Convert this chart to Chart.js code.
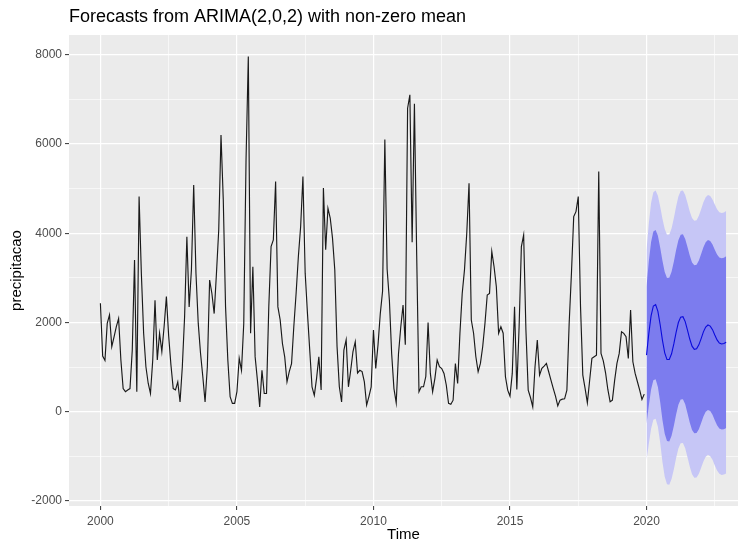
<!DOCTYPE html>
<html>
<head>
<meta charset="utf-8">
<script src="https://cdn.jsdelivr.net/npm/chart.js@4/dist/chart.umd.min.js"></script>
<style>
html,body{margin:0;padding:0;background:#ffffff;}
#wrap{width:746px;height:543px;position:relative;}
</style>
</head>
<body>
<div id="wrap"><canvas id="c" width="746" height="543"></canvas></div>
<script>
// ---- data ----
const startYear = 2000;
const frequency = 12;
const precipitacao = [
  2430, 1250, 1150, 1980, 2170, 1460, 1680, 1910, 2090, 1160, 520, 450,
  490, 520, 1380, 3400, 450, 4820, 3100, 1760, 1010, 640, 410, 1160,
  2500, 1160, 1760, 1350, 1910, 2580, 1700, 1050, 520, 490, 670, 220,
  1010, 2130, 3920, 2350, 3180, 5080, 3100, 1980, 1310, 790, 220, 1010,
  2950, 2650, 2200, 3100, 4070, 6200, 4750, 2350, 1160, 340, 190, 190,
  450, 1200, 930, 1980, 5640, 7960, 1760, 3250, 1230, 710, 110, 930,
  410, 410, 2350, 3700, 3850, 5160, 2350, 2060, 1530, 1230, 670, 900,
  1080, 1910, 2650, 3480, 4150, 5270, 3100, 2200, 1380, 560, 370, 750,
  1230, 490, 5010, 3630, 4560, 4340, 3890, 3180, 1460, 560, 220, 1380,
  1610, 560, 930, 1350, 1570, 870, 930, 900, 670, 150, 340, 560,
  1830, 970, 1500, 2200, 2700, 6100, 3200, 2500, 1300, 520, 200, 1300,
  1900, 2390, 1500, 6800, 7100, 3800, 6900, 3500, 450, 560, 560, 790,
  2000, 860, 450, 750, 1160, 1010, 970, 860, 600, 190, 170, 260,
  1080, 635, 1760, 2650, 3180, 4000, 5120, 2055, 1760, 1233, 897, 1084,
  1457, 1980, 2616, 2653, 3590, 3250, 2800, 1760, 1906, 1760, 785, 486,
  351, 860, 2350, 500, 1900, 3700, 3960, 1830, 486, 320, 112, 1009,
  1607, 822, 972, 1024, 1084, 897, 710, 523, 351, 135, 262, 284,
  291, 486, 1980, 3100, 4372, 4484, 4820, 2354, 822, 523, 200, 700,
  1196, 1233, 1270, 5381, 1308, 1143, 874, 500, 224, 262, 710, 1084,
  1308, 1794, 1756, 1682, 1196, 2280, 1121, 860, 673, 486, 277, 396
];
const forecastStart = 2020;
const forecastMean = [
  1270, 1750, 2150, 2370, 2400, 2250, 1950, 1600, 1320, 1170, 1170, 1300,
  1520, 1780, 2000, 2120, 2130, 2020, 1830, 1630, 1470, 1400, 1410, 1500,
  1640, 1790, 1900, 1945, 1920, 1840, 1720, 1610, 1540, 1520, 1530, 1560
];
const upper80 = [
  2808, 3365, 3803, 4036, 4072, 3942, 3680, 3381, 3133, 2996, 3003, 3135,
  3359, 3622, 3844, 3967, 3979, 3873, 3691, 3499, 3346, 3281, 3295, 3389,
  3533, 3687, 3799, 3847, 3824, 3747, 3631, 3523, 3456, 3438, 3450, 3482
];
const lower80 = [
  -268, 135, 497, 704, 728, 558, 220, -181, -493, -656, -663, -535,
  -319, -62, 156, 273, 281, 167, -31, -239, -406, -481, -475, -389,
  -253, -107, 1, 43, 16, -67, -191, -303, -376, -398, -390, -362
];
const upper95 = [
  3622, 4220, 4678, 4918, 4958, 4837, 4596, 4324, 4093, 3963, 3973, 4107,
  4333, 4597, 4820, 4944, 4958, 4854, 4676, 4488, 4339, 4277, 4293, 4389,
  4535, 4691, 4805, 4854, 4833, 4756, 4642, 4536, 4470, 4454, 4466, 4500
];
const lower95 = [
  -1082, -720, -378, -178, -158, -337, -696, -1124, -1453, -1623, -1633, -1507,
  -1293, -1037, -820, -704, -698, -814, -1016, -1228, -1399, -1477, -1473, -1389,
  -1255, -1111, -1005, -964, -993, -1076, -1202, -1316, -1390, -1414, -1406, -1380
];
const xTickLabels = [2000, 2005, 2010, 2015, 2020];
const yTickLabels = [-2000, 0, 2000, 4000, 6000, 8000];

// ---- helpers ----
const obsPts = precipitacao.map((v, i) => ({x: startYear + i / frequency, y: v}));
const fc = arr => arr.map((v, j) => ({x: forecastStart + j / frequency, y: v}));

const X_MIN = 1998.85, X_MAX = 2023.35, Y_MIN = -2110, Y_MAX = 8440;

function withMinor(major, lo, hi) {
  const step = major[1] - major[0];
  const out = [];
  major.forEach(v => { out.push(v - step / 2); out.push(v); });
  out.push(major[major.length - 1] + step / 2);
  return out.filter(v => v >= lo && v <= hi);
}
const isMajorX = v => xTickLabels.includes(v);
const isMajorY = v => yTickLabels.includes(v);

const FONT = '"Liberation Sans", Arial, sans-serif';

const panelBg = {
  id: 'panelBg',
  beforeDraw(chart) {
    const {ctx, chartArea: a} = chart;
    ctx.save();
    ctx.fillStyle = '#EBEBEB';
    ctx.fillRect(a.left, a.top, a.right - a.left, a.bottom - a.top);
    ctx.restore();
  }
};

const texts = {
  id: 'texts',
  afterDraw(chart) {
    const {ctx, chartArea: a} = chart;
    ctx.save();
    ctx.fillStyle = '#000000';
    ctx.font = '18px ' + FONT;
    ctx.textAlign = 'left';
    ctx.textBaseline = 'middle';
    ctx.fillText('Forecasts from ARIMA(2,0,2) with non-zero mean', a.left, 17);
    ctx.font = '15px ' + FONT;
    ctx.textAlign = 'center';
    ctx.fillText('Time', (a.left + a.right) / 2, 535);
    ctx.translate(17, (a.top + a.bottom) / 2);
    ctx.rotate(-Math.PI / 2);
    ctx.fillText('precipitacao', 0, 0);
    ctx.restore();
  }
};

const gridFor = isMajor => ({
  color: '#FFFFFF',
  lineWidth: c => (c.tick && isMajor(c.tick.value)) ? 1.2 : 0.6,
  tickColor: c => (c.tick && isMajor(c.tick.value)) ? '#333333' : 'rgba(0,0,0,0)',
  tickLength: 4,
  tickWidth: 1,
  drawOnChartArea: true
});

new Chart(document.getElementById('c'), {
  type: 'line',
  data: {
    datasets: [
      {data: fc(upper95), fill: '+1', backgroundColor: '#C6C6F6', borderWidth: 0, pointRadius: 0, order: 5},
      {data: fc(lower95), fill: false, borderWidth: 0, pointRadius: 0, order: 5},
      {data: fc(upper80), fill: '+1', backgroundColor: '#7C7CEE', borderWidth: 0, pointRadius: 0, order: 4},
      {data: fc(lower80), fill: false, borderWidth: 0, pointRadius: 0, order: 4},
      {data: fc(forecastMean), fill: false, borderColor: '#0A0ADC', borderWidth: 1.1, pointRadius: 0, order: 2},
      {data: obsPts, fill: false, borderColor: '#1a1a1a', borderWidth: 1.15, pointRadius: 0, order: 1}
    ]
  },
  options: {
    responsive: false,
    animation: false,
    events: [],
    layout: {padding: {top: 35, right: 8, bottom: 0, left: 0}},
    plugins: {legend: {display: false}, tooltip: {enabled: false}, title: {display: false}},
    scales: {
      x: {
        type: 'linear', position: 'bottom', min: X_MIN, max: X_MAX,
        afterBuildTicks: s => { s.ticks = withMinor(xTickLabels, X_MIN, X_MAX).map(v => ({value: v})); },
        afterFit: s => { s.height = 37; },
        ticks: {
          autoSkip: false, maxRotation: 0, minRotation: 0, padding: 4,
          color: '#4D4D4D', font: {family: FONT, size: 12},
          callback: v => isMajorX(v) ? String(v) : ''
        },
        grid: gridFor(isMajorX),
        border: {display: false}
      },
      y: {
        type: 'linear', position: 'left', min: Y_MIN, max: Y_MAX,
        afterBuildTicks: s => { s.ticks = withMinor(yTickLabels, Y_MIN, Y_MAX).map(v => ({value: v})); },
        afterFit: s => { s.width = 69; },
        ticks: {
          autoSkip: false, padding: 3,
          color: '#4D4D4D', font: {family: FONT, size: 12},
          callback: v => isMajorY(v) ? String(v) : ''
        },
        grid: gridFor(isMajorY),
        border: {display: false}
      }
    }
  },
  plugins: [panelBg, texts]
});
</script>
</body>
</html>
